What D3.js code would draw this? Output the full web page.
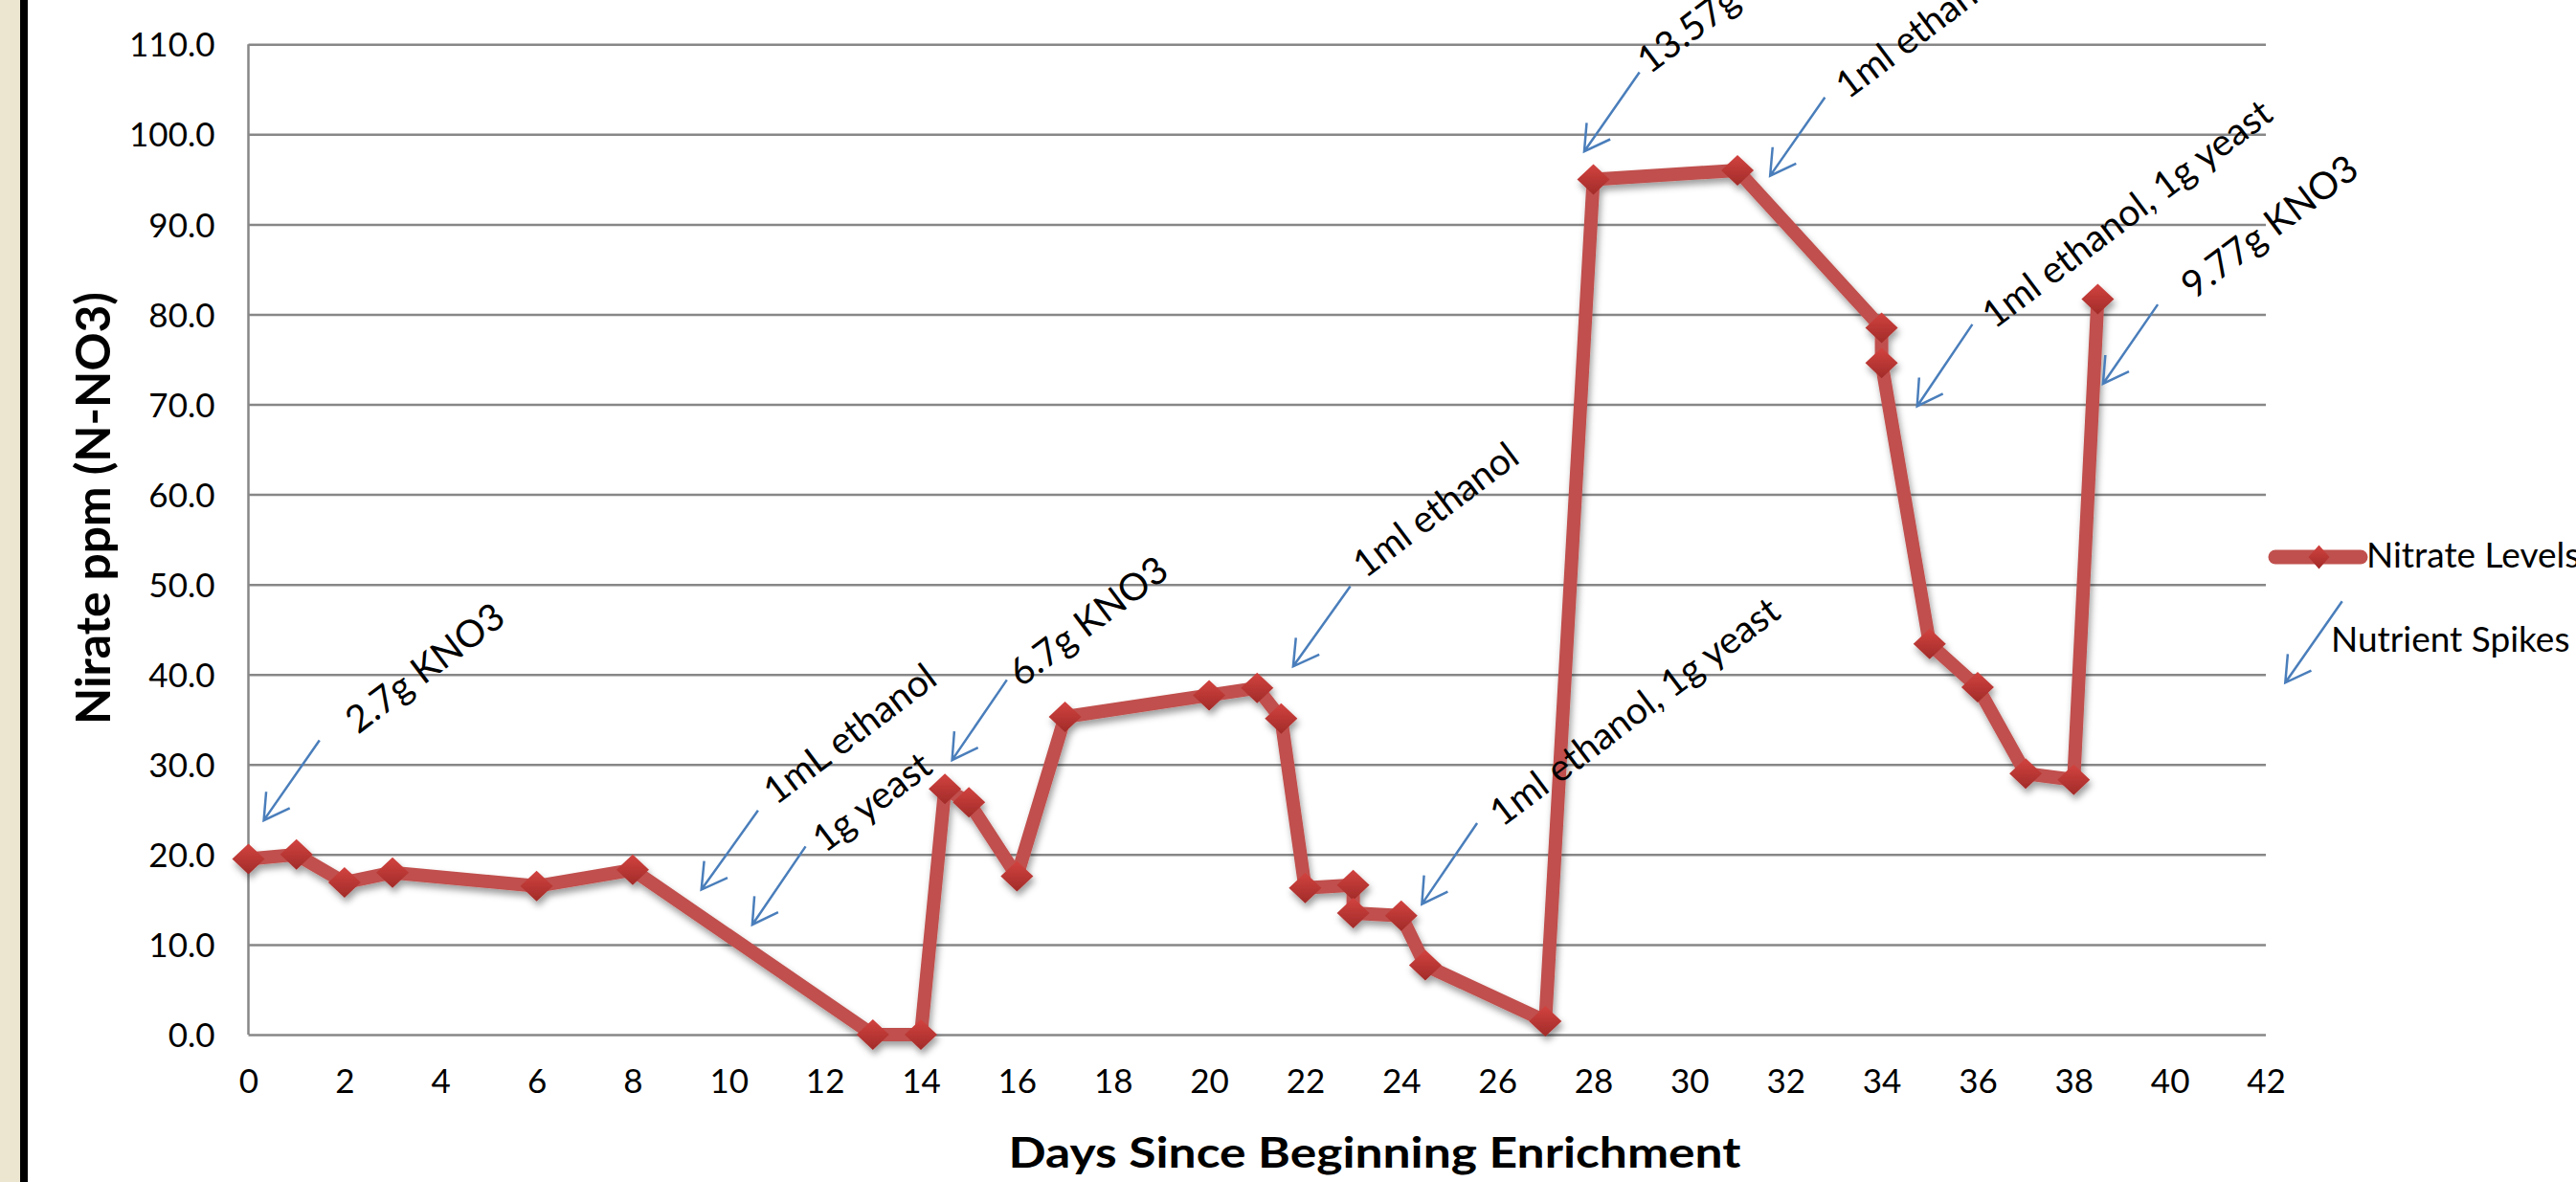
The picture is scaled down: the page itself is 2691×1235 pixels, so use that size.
<!DOCTYPE html>
<html><head><meta charset="utf-8">
<script src="https://cdn.jsdelivr.net/npm/d3@7"></script>
<style>html,body{margin:0;padding:0;background:#fff;overflow:hidden}</style>
</head><body>
<svg id="chart" width="2691" height="1235"></svg>
<script>
// ---------- data ----------
const days    = [0,1,2,3,6,8,13,14,14.5,15,16,17,20,21,21.5,22,23,23,24,24.5,27,28,31,34,34,35,36,37,38,38.5];
const nitrate = [19.5,20.0,16.9,18.0,16.5,18.3,0.0,0.0,27.3,25.8,17.6,35.3,37.7,38.5,35.1,16.3,16.6,13.5,13.2,7.7,1.5,95.0,96.0,78.5,74.6,43.4,38.6,29.0,28.3,81.7];
const yTicks = [0,10,20,30,40,50,60,70,80,90,100,110];
const xTicks = [0,2,4,6,8,10,12,14,16,18,20,22,24,26,28,30,32,34,36,38,40,42];
const seriesName = "Nitrate Levels";
const spikeName = "Nutrient Spikes";
const xTitle = "Days Since Beginning Enrichment";
const yTitle = "Nirate ppm (N-NO3)";
const noteText    = ["2.7g KNO3","1mL ethanol","1g yeast","6.7g KNO3","1ml ethanol","1ml ethanol, 1g yeast","13.57g KNO3","1ml ethanol","1ml ethanol, 1g yeast","9.77g KNO3"];
const noteTipDay  = [0.32, 9.43, 10.49, 14.65, 21.75, 24.43, 27.81, 31.68, 34.74, 38.61];
const noteTipVal  = [23.8, 16.1, 12.2, 30.5, 40.9, 14.5, 98.1, 95.4, 69.8, 72.3];
const noteTailDay = [1.48, 10.61, 11.60, 15.79, 22.94, 25.58, 28.96, 32.82, 35.89, 39.75];
const noteTailVal = [32.7, 24.9, 20.9, 39.4, 49.8, 23.5, 106.9, 104.1, 78.9, 81.1];
const noteTextDay = [2.28, 10.98, 12.0, 16.09, 23.25, 26.1, 29.17, 33.30, 36.35, 40.50];
const noteTextVal = [33.3, 25.4, 20.1, 38.5, 50.6, 23.0, 106.6, 103.8, 78.3, 81.6];

// ---------- layout ----------
const W = 2691, H = 1235;
const L = 259.5, R = 2367, T = 46.3, B = 1081;
const FONT = "Lato, 'Open Sans', 'Noto Sans', sans-serif";
const RED = "#C0504D", BLUE = "#4A7EBB", GRID = "#878787";

const svg = d3.select("#chart");
const defs = svg.append("defs");
const sh = defs.append("filter").attr("id","shadow").attr("x","-50%").attr("y","-50%").attr("width","200%").attr("height","200%");
sh.append("feDropShadow").attr("dx",2).attr("dy",5).attr("stdDeviation",3.5).attr("flood-color","#000").attr("flood-opacity",0.38);
const grad = defs.append("linearGradient").attr("id","mk").attr("x1",0).attr("y1",0).attr("x2",0).attr("y2",1);
grad.append("stop").attr("offset","0%").attr("stop-color","#D2433F");
grad.append("stop").attr("offset","100%").attr("stop-color","#A12B29");

// background frame
svg.append("rect").attr("x",0).attr("y",0).attr("width",W).attr("height",H).attr("fill","#fff");
svg.append("rect").attr("x",0).attr("y",0).attr("width",21).attr("height",H).attr("fill","#ECE5D0");
svg.append("rect").attr("x",21).attr("y",0).attr("width",8).attr("height",H).attr("fill","#000");

const x = d3.scaleLinear().domain([0,42]).range([L,R]);
const y = d3.scaleLinear().domain([0,110]).range([B,T]);

// y axis with gridlines
const gy = svg.append("g").attr("transform",`translate(${L},0)`)
  .call(d3.axisLeft(y).tickValues(yTicks).tickFormat(d3.format(".1f")).tickSize(-(R-L)).tickPadding(35));
gy.select(".domain").attr("stroke",GRID).attr("stroke-width",2.5).attr("d",`M0,${T}V${B}`);
gy.selectAll(".tick line").attr("stroke",GRID).attr("stroke-width",2.5);
gy.selectAll(".tick text").attr("font-family",FONT).attr("font-size",35).attr("fill","#000").attr("dy","0.36em");

// x axis labels
const gx = svg.append("g").attr("transform",`translate(0,${B})`)
  .call(d3.axisBottom(x).tickValues(xTicks).tickFormat(d3.format("d")).tickSize(0).tickPadding(0));
gx.select(".domain").remove();
gx.selectAll(".tick text").attr("font-family",FONT).attr("font-size",35).attr("fill","#000").attr("dy",null).attr("y",61);

// axis titles
function fitLen(sel, len){ sel.attr("textLength",len).attr("lengthAdjust","spacingAndGlyphs"); return sel; }
fitLen(svg.append("text").attr("x",1436).attr("y",1220).attr("text-anchor","middle")
  .attr("font-family",FONT).attr("font-weight","bold").attr("font-size",44).attr("fill","#000").text(xTitle), 765);
fitLen(svg.append("text").attr("transform","translate(115,531) rotate(-90)").attr("text-anchor","middle")
  .attr("font-family",FONT).attr("font-weight","bold").attr("font-size",50).attr("fill","#000").text(yTitle), 452);

// series
const pts = days.map((d,i)=>[d,nitrate[i]]);
const line = d3.line().x(d=>x(d[0])).y(d=>y(d[1]));
const sg = svg.append("g").attr("filter","url(#shadow)");
sg.append("path").attr("d",line(pts)).attr("fill","none").attr("stroke",RED).attr("stroke-width",14).attr("stroke-linejoin","round");
const diamond = (cx,cy,hw,hh)=>`M${cx},${cy-hh}L${cx+hw},${cy}L${cx},${cy+hh}L${cx-hw},${cy}Z`;
sg.selectAll("path.mk").data(pts).enter().append("path").attr("class","mk")
  .attr("d",d=>diamond(x(d[0]),y(d[1]),17,16)).attr("fill","url(#mk)");

// annotation arrows + text
function arrow(g, x1, y1, x2, y2){ // tail -> tip
  const a = Math.atan2(y1-y2, x1-x2), len = 30, sp = Math.PI/6;
  const p = `M${x1},${y1}L${x2},${y2}` +
    `M${x2+len*Math.cos(a+sp)},${y2+len*Math.sin(a+sp)}L${x2},${y2}L${x2+len*Math.cos(a-sp)},${y2+len*Math.sin(a-sp)}`;
  g.append("path").attr("d",p).attr("fill","none").attr("stroke",BLUE).attr("stroke-width",2.5).attr("stroke-linejoin","miter");
}
const ag = svg.append("g");
noteText.forEach((t,i)=>arrow(ag, x(noteTailDay[i]), y(noteTailVal[i]), x(noteTipDay[i]), y(noteTipVal[i])));

// fit annotation font size so the longest note matches the reference length
const probe = svg.append("text").attr("font-family",FONT).attr("font-size",40).text(noteText[5]);
const noteSize = 40 * 367 / probe.node().getComputedTextLength();
probe.remove();
const tg = svg.append("g");
noteText.forEach((t,i)=>{
  tg.append("text").attr("transform",`translate(${x(noteTextDay[i])},${y(noteTextVal[i])}) rotate(-37)`)
    .attr("font-family",FONT).attr("font-size",noteSize).attr("fill","#000").text(t);
});

// legend
const lg = svg.append("g");
lg.append("line").attr("x1",2377).attr("x2",2466).attr("y1",582).attr("y2",582)
  .attr("stroke",RED).attr("stroke-width",15).attr("stroke-linecap","round");
lg.append("path").attr("d",diamond(2422.5,582,11,12.5)).attr("fill","url(#mk)");
lg.append("text").attr("x",2472).attr("y",592.5).attr("font-family",FONT).attr("font-size",37).attr("fill","#000").text(seriesName);
arrow(lg, 2446.7, 628.3, 2387.3, 713.3);
lg.append("text").attr("x",2435).attr("y",681).attr("font-family",FONT).attr("font-size",37).attr("fill","#000").text(spikeName);
</script>
</body></html>
